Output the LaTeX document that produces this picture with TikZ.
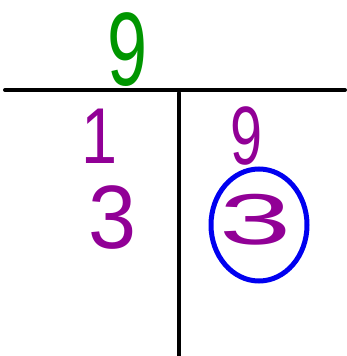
\documentclass[tikz,border=0pt]{standalone}
\usepackage{fontspec}
\setmainfont{Liberation Sans}
\usepackage{tikz}
\usetikzlibrary{shapes}

\definecolor{leafgreen}{RGB}{0,150,0}
\definecolor{factorpurple}{RGB}{145,0,150}
\definecolor{circleblue}{RGB}{0,0,240}

\begin{document}
\begin{tikzpicture}[x=1pt, y=-1pt]

\tikzset{digit/.style = {inner sep=0pt, font=\fontsize{72}{72}\selectfont}}
\tikzset{rootdigit/.style = {digit, text=leafgreen}}
\tikzset{factordigit/.style = {digit, text=factorpurple}}
\tikzset{bar/.style = {line width=4pt, line cap=round}}
\useasboundingbox (0,0) rectangle (347,356);
% digits
\node[rootdigit, xscale=1.0, yscale=1.45] (top) at (128,50) {9};
\node[factordigit, xscale=0.9, yscale=1.1] (one) at (100,136) {1};
\node[factordigit, xscale=1.2, yscale=1.25] (three) at (113,218) {3};
\node[factordigit, xscale=0.8, yscale=1.15] (nine) at (247,136) {9};
\node[factordigit, xscale=1.8, yscale=1.0] (prime) at (256,220) {3};
% lines
\draw[bar] (5,90) -- (345,90);
\draw[bar] (179,93) -- (179,356);
\draw[circleblue, line width=5pt] (259,225) ellipse [x radius=48pt, y radius=56pt];
\end{tikzpicture}
\end{document}
